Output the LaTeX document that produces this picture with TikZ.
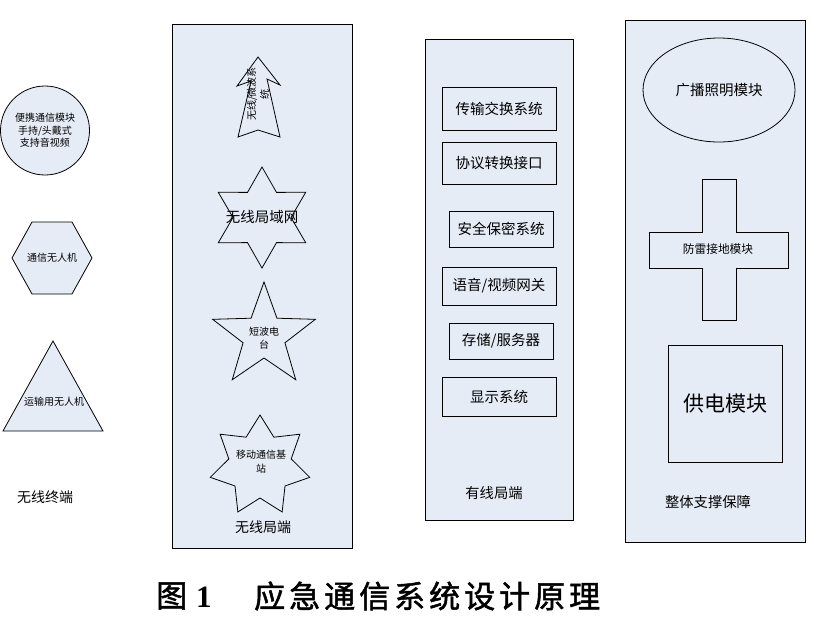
\documentclass[tikz,border=0pt]{standalone}
\usepackage{fontspec}
\setmainfont{Noto Sans CJK SC}
\newfontfamily\serifb{Liberation Serif}
\newfontfamily\capfont[FakeBold=1.6]{Noto Sans CJK SC}
\usetikzlibrary{shapes.geometric}
\definecolor{fillc}{RGB}{230,236,246}
\tikzset{
  shp/.style={draw=black, line width=0.8pt, fill=fillc},
  lbl/.style={inner sep=0pt, align=center, text=black},
  fs/.style={font=\fontsize{#1}{#1}\selectfont},
}
\begin{document}
\begin{tikzpicture}[x=1pt,y=-1pt]
\fill[white] (0,0) rectangle (834,619);
\useasboundingbox (0,0) rectangle (834,619);

% ---- column 1: wireless terminals
\node[shp, circle, minimum size=89, inner sep=0pt, lbl, font=\fontsize{10}{12.5}\selectfont] (circ) at (45,130.5) {便携通信模块\\手持/头戴式\\支持音视频};
\draw[shp] (12,258) -- (32,222) -- (72,222) -- (92,258) -- (72,294) -- (32,294) -- cycle;
\node[lbl, fs=10] (hex) at (52,258) {通信无人机};
\draw[shp] (53,341) -- (103,431) -- (3,431) -- cycle;
\node[lbl, fs=10] (tri) at (54,402) {运输用无人机};
\node[lbl, fs=14] (wxzd) at (45,497) {无线终端};

% ---- column 2: wireless local end
\draw[shp] (172,24) rectangle (352,548);
\draw[shp] (258,57) -- (280,85) -- (267,79) -- (280,137) -- (258,130) -- (238,137) -- (251,81) -- (237,86) -- cycle;
\node[lbl, rotate=90, font=\fontsize{10}{13}\selectfont] (arrowtxt) at (258,94) {无线/微波系\\统};
\begin{scope}[shift={(262,217.5)}]
  \draw[shp] plot[samples at={0,...,11}] (\x*30-90:{ifthenelse(mod(\x,2)==0,50.5,29)}) -- cycle;
\end{scope}
\node[lbl, fs=14.5] (wlan) at (262,217) {无线局域网};
\begin{scope}[shift={(264,336)}]
  \draw[shp] plot[samples at={0,...,9}] (\x*36-90:{ifthenelse(mod(\x,2)==0,54,22)}) -- cycle;
\end{scope}
\node[lbl, font=\fontsize{10}{13}\selectfont] (dbdt) at (264,338) {短波电\\台};
\begin{scope}[shift={(260,466)}]
  \draw[shp] plot[samples at={0,...,13}] (\x*25.7143-90:{ifthenelse(mod(\x,2)==0,51,32)}) -- cycle;
\end{scope}
\node[lbl, font=\fontsize{10}{14}\selectfont] (ydtx) at (261,462) {移动通信基\\站};
\node[lbl, fs=14] (wxjd) at (263,527) {无线局端};

% ---- column 3: wired local end
\draw[shp] (425,39) rectangle (573,520);
\node[shp, lbl, fs=14.5, minimum width=114, minimum height=43] (b1) at (499,108.5) {传输交换系统};
\node[shp, lbl, fs=14.5, minimum width=114, minimum height=42] (b2) at (499,163) {协议转换接口};
\node[shp, lbl, fs=14.5, minimum width=104, minimum height=36] (b3) at (501,229) {安全保密系统};
\node[shp, lbl, fs=14.5, minimum width=114, minimum height=38] (b4) at (499,286) {语音/视频网关};
\node[shp, lbl, fs=14.5, minimum width=104, minimum height=36] (b5) at (501,341) {存储/服务器};
\node[shp, lbl, fs=14.5, minimum width=114, minimum height=39] (b6) at (499,396.5) {显示系统};
\node[lbl, fs=14.3] (yxjd) at (494,493) {有线局端};

% ---- column 4: overall support
\draw[shp] (625,20) rectangle (805,542);
\node[shp, ellipse, lbl, fs=14.5, minimum width=152, minimum height=104] (gbzm) at (719,90) {广播照明模块};
\draw[shp] (702,179) -- (736,179) -- (736,232) -- (788,232) -- (788,268) -- (736,268) -- (736,320) -- (702,320) -- (702,268) -- (649,268) -- (649,232) -- (702,232) -- cycle;
\node[lbl, fs=11.7] (fljd) at (718,249) {防雷接地模块};
\node[shp, lbl, fs=21, minimum width=114, minimum height=117] (gdmk) at (725,403.5) {供电模块};
\node[lbl, fs=14.3] (ztzc) at (708,502) {整体支撑保障};

% ---- caption
\node[lbl, anchor=west, font=\fontsize{31}{36}\selectfont\capfont] (cap1) at (156,596) {图};
\node[lbl, anchor=west, font=\fontsize{31}{36}\selectfont\serifb\bfseries] (cap2) at (196,597) {1};
\node[lbl, anchor=west, font=\fontsize{31}{36}\selectfont\capfont] (cap3) at (254,596) {应\hspace{4pt}急\hspace{4pt}通\hspace{4pt}信\hspace{4pt}系\hspace{4pt}统\hspace{4pt}设\hspace{4pt}计\hspace{4pt}原\hspace{4pt}理};
\end{tikzpicture}
\end{document}
